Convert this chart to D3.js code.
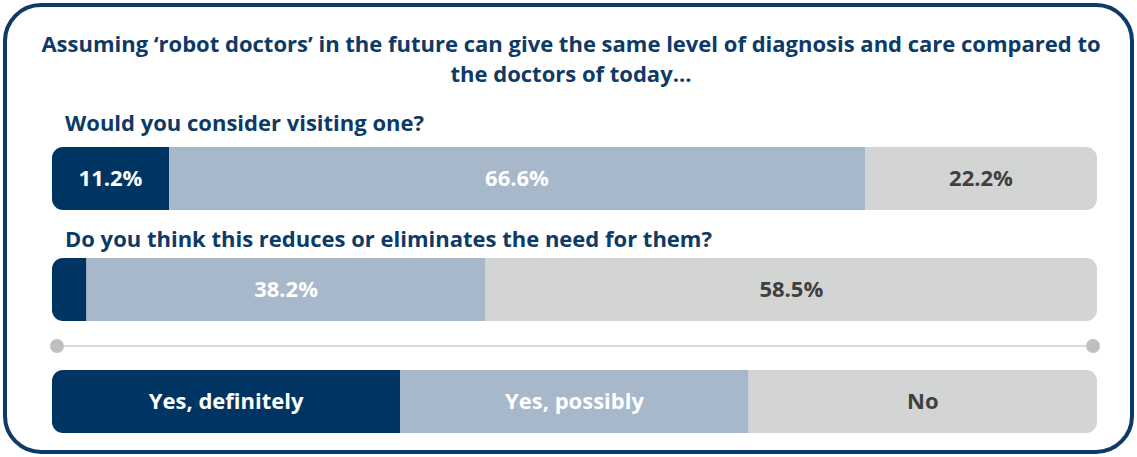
<!DOCTYPE html>
<html>
<head>
<meta charset="utf-8">
<script src="https://cdn.jsdelivr.net/npm/d3@7/dist/d3.min.js"></script>
<style>
  html, body { margin: 0; padding: 0; background: #ffffff; }
  svg { display: block; }
  text { font-family: "Open Sans", Lato, sans-serif; font-weight: 700; }
</style>
</head>
<body>
<svg id="chart" width="1137" height="457"></svg>
<script>
// Survey answers, percent of respondents
const answers = ["Yes, definitely", "Yes, possibly", "No"];
const questions = [
  "Would you consider visiting one?",
  "Do you think this reduces or eliminates the need for them?"
];
const visitValues = [11.2, 66.6, 22.2];
const replaceValues = [3.3, 38.2, 58.5];
// which segments print their value
const visitShown = [true, true, true];
const replaceShown = [false, true, true];
const titleLines = [
  "Assuming \u2018robot doctors\u2019 in the future can give the same level of diagnosis and care compared to",
  "the doctors of today..."
];

const fills = ["#003462", "#a6b8ca", "#d3d4d4"];
const labelColors = ["#ffffff", "#ffffff", "#404040"];
const navy = "#0d3a66";
const fontSize = 22;

const W = 1137, H = 457;
const svg = d3.select("#chart");

// outer frame
svg.append("rect")
  .attr("x", 5).attr("y", 5)
  .attr("width", W - 10).attr("height", H - 10)
  .attr("rx", 36).attr("ry", 36)
  .attr("fill", "#ffffff")
  .attr("stroke", navy).attr("stroke-width", 4);

// title
svg.append("g").selectAll("text")
  .data(titleLines).join("text")
  .attr("x", 571)
  .attr("y", (d, i) => 52 + i * 30)
  .attr("text-anchor", "middle")
  .attr("font-size", fontSize)
  .attr("fill", navy)
  .text(d => d);

const x = d3.scaleLinear().domain([0, 100]).range([52, 1097]);
const barH = 63;

function stackBar(id, values, shown, y0, labels) {
  let acc = 0;
  const segs = values.map((v, i) => {
    const s = { i, v, x0: acc, x1: acc + v };
    acc += v;
    return s;
  });
  const defs = svg.append("defs");
  defs.append("clipPath").attr("id", id)
    .append("rect")
    .attr("x", x(0)).attr("y", y0)
    .attr("width", x(100) - x(0)).attr("height", barH)
    .attr("rx", 11).attr("ry", 11);
  const g = svg.append("g").attr("clip-path", `url(#${id})`);
  g.selectAll("rect")
    .data(segs).join("rect")
    .attr("x", d => x(d.x0))
    .attr("y", y0)
    .attr("width", d => x(d.x1) - x(d.x0))
    .attr("height", barH)
    .attr("fill", d => fills[d.i]);
  svg.append("g").selectAll("text")
    .data(segs.filter(d => shown[d.i])).join("text")
    .attr("x", d => (x(d.x0) + x(d.x1)) / 2)
    .attr("y", y0 + barH / 2)
    .attr("dy", "0.36em")
    .attr("text-anchor", "middle")
    .attr("font-size", fontSize)
    .attr("fill", d => labelColors[d.i])
    .text(d => labels ? labels[d.i] : d.v.toFixed(1) + "%");
}

// question headings
svg.append("g").selectAll("text")
  .data(questions).join("text")
  .attr("x", 65)
  .attr("y", (d, i) => [131, 247][i])
  .attr("font-size", fontSize)
  .attr("fill", navy)
  .text(d => d);

stackBar("clip-visit", visitValues, visitShown, 147);
stackBar("clip-replace", replaceValues, replaceShown, 258);

// divider
svg.append("line")
  .attr("x1", 57).attr("x2", 1093)
  .attr("y1", 346).attr("y2", 346)
  .attr("stroke", "#cccccc").attr("stroke-width", 1.5);
svg.selectAll("circle.end")
  .data([57, 1093]).join("circle")
  .attr("class", "end")
  .attr("cx", d => d).attr("cy", 346).attr("r", 7)
  .attr("fill", "#bfbfbf");

// legend as equal-width bar
stackBar("clip-legend", answers.map(() => 100 / answers.length), [true, true, true], 370, answers);
</script>
</body>
</html>
